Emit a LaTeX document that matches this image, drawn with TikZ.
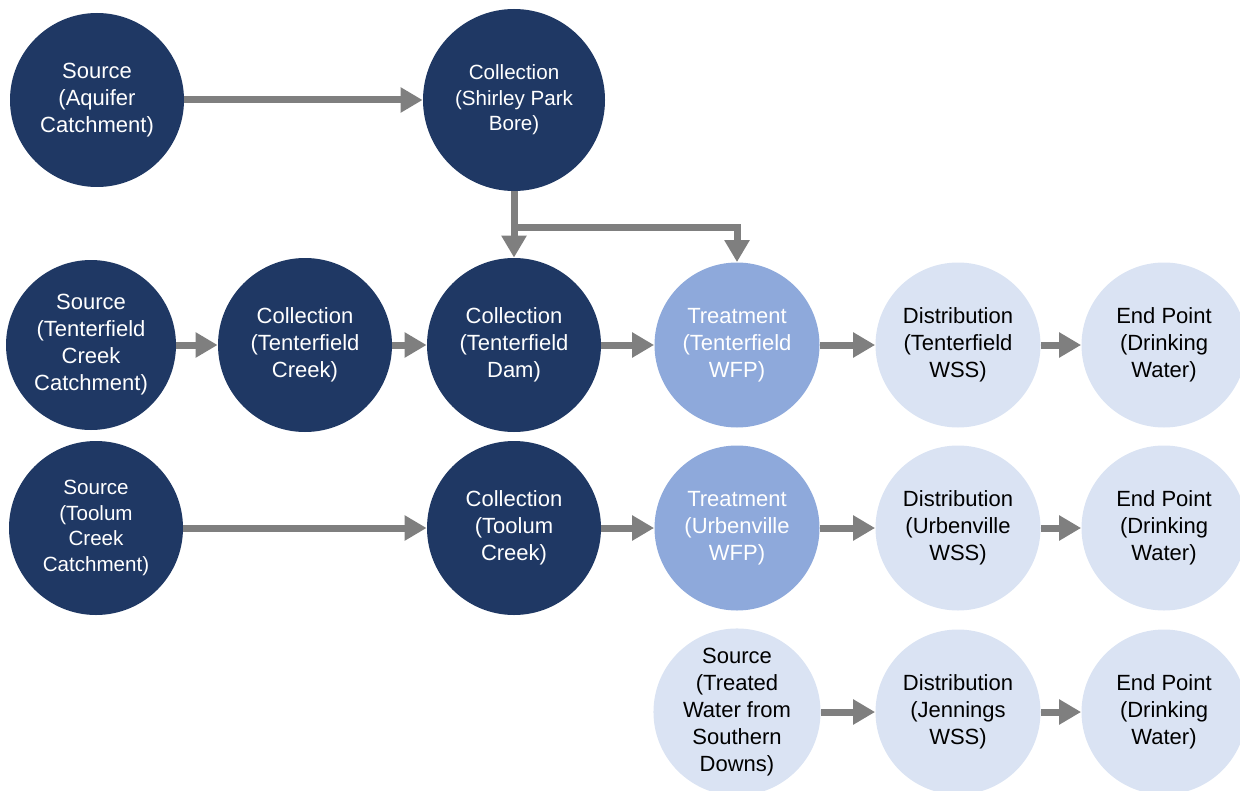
\documentclass[tikz,border=0pt]{standalone}
\usepackage{fontspec}
\setmainfont{Liberation Sans}
\usepackage{xcolor}
\usetikzlibrary{arrows.meta}

\definecolor{navy}{RGB}{31,56,100}
\definecolor{midblue}{RGB}{142,169,219}
\definecolor{paleblue}{RGB}{218,227,243}
\definecolor{flowgray}{RGB}{127,127,127}

\begin{document}
\begin{tikzpicture}[x=0.5pt, y=-0.5pt,
  stage/.style={circle, inner sep=0pt, align=center,
                font=\fontsize{11}{13.5}\selectfont},
  darkstage/.style={stage, fill=navy, text=white, minimum size=87pt},
  midstage/.style={stage, fill=midblue, text=white, minimum size=82.5pt},
  palestage/.style={stage, fill=paleblue, text=black, minimum size=82.5pt},
  smalltext/.style={font=\fontsize{10.3}{12.8}\selectfont},
  flow/.style={-{Triangle[length=11pt, width=12pt]}, draw=flowgray,
               line width=3.5pt}]
\useasboundingbox (0,0) rectangle (1240,791);

% groundwater
\node[darkstage] (aquifer) at (97,100) {Source\\(Aquifer\\Catchment)};
\node[darkstage, smalltext, minimum size=91pt] (shirley) at (514,100)
     {Collection\\(Shirley Park\\Bore)};

% Tenterfield
\node[darkstage, minimum size=85pt] (tcatch) at (91,345)
     {Source\\(Tenterfield\\Creek\\Catchment)};
\node[darkstage] (tcreek) at (305,345) {Collection\\(Tenterfield\\Creek)};
\node[darkstage] (tdam) at (514,345) {Collection\\(Tenterfield\\Dam)};
\node[midstage] (ttreat) at (737,345) {Treatment\\(Tenterfield\\WFP)};
\node[palestage] (tdist) at (958,345) {Distribution\\(Tenterfield\\WSS)};
\node[palestage] (tend) at (1164,345) {End Point\\(Drinking\\Water)};

% Urbenville
\node[darkstage, smalltext] (ucatch) at (96,528)
     {Source\\(Toolum\\Creek\\Catchment)};
\node[darkstage] (ucoll) at (514,528) {Collection\\(Toolum\\Creek)};
\node[midstage] (utreat) at (737,528) {Treatment\\(Urbenville\\WFP)};
\node[palestage] (udist) at (958,528) {Distribution\\(Urbenville\\WSS)};
\node[palestage] (uend) at (1164,528) {End Point\\(Drinking\\Water)};

% Jennings
\node[palestage] (sdown) at (737,712)
     {Source\\(Treated\\Water from\\Southern\\Downs)};
\node[palestage] (jdist) at (958,712) {Distribution\\(Jennings\\WSS)};
\node[palestage] (jend) at (1164,712) {End Point\\(Drinking\\Water)};

% flows
\draw[flow] (aquifer) -- (shirley);
\draw[flow] (shirley) -- (tdam);
\coordinate (split) at (514,227);
\draw[flow] (split) -| (ttreat);

\draw[flow] (tcatch) -- (tcreek);
\draw[flow] (tcreek) -- (tdam);
\draw[flow] (tdam) -- (ttreat);
\draw[flow] (ttreat) -- (tdist);
\draw[flow] (tdist) -- (tend);

\draw[flow] (ucatch) -- (ucoll);
\draw[flow] (ucoll) -- (utreat);
\draw[flow] (utreat) -- (udist);
\draw[flow] (udist) -- (uend);

\draw[flow] (sdown) -- (jdist);
\draw[flow] (jdist) -- (jend);
\end{tikzpicture}
\end{document}
